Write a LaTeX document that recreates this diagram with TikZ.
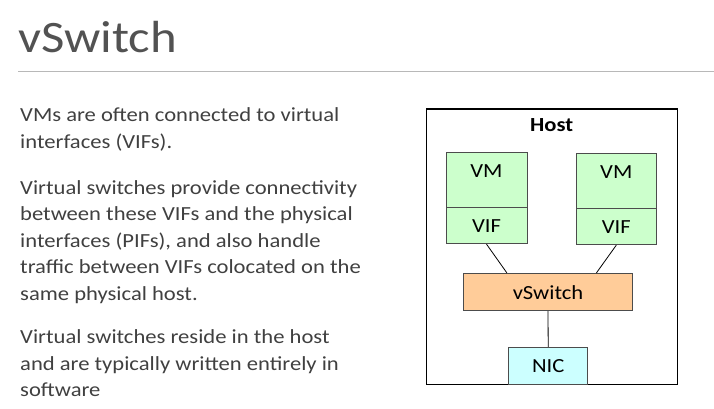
\documentclass[tikz,border=0pt]{standalone}
\usepackage{fontspec}
\setmainfont{Carlito}[FakeStretch=1.13]
\usetikzlibrary{positioning}

\definecolor{slidetext}{HTML}{404040}
\definecolor{vmgreen}{HTML}{CCFFCC}
\definecolor{sworange}{HTML}{FFCC99}
\definecolor{niccyan}{HTML}{CCFFFF}

\begin{document}
\begin{tikzpicture}[x=1pt,y=-1pt]

	\tikzset{
		bodytext/.style={anchor=base west, align=left, inner sep=0pt, text=slidetext,
			font=\fontsize{20}{26.5}\selectfont},
		boxtext/.style={anchor=base, inner sep=0pt, font=\fontsize{20}{24}\selectfont},
		part/.style={draw=black!70, line width=0.9pt, inner sep=0pt},
		wire/.style={line width=0.8pt}
	}

	\useasboundingbox (0,0) rectangle (714,408);

	% title and rule
	\node[anchor=base west, inner sep=0pt, text=black!68,
		font=\fontsize{45}{50}\selectfont] (title) at (18.3,52.7) {vSwitch};
	\draw[black!28, line width=1.2pt] (18.3,71.7) -- (714,71.7);

	% left column (anchored on the last line)
	\node[bodytext] (para1) at (20,148.3) {VMs are often connected to virtual\\interfaces (VIFs).};
	\node[bodytext] (para2) at (20,300) {Virtual switches provide connectivity\\between these VIFs and the physical\\interfaces (PIFs), and also handle\\traffic between VIFs colocated on the\\same physical host.};
	\node[bodytext] (para3) at (20,396.7) {Virtual switches reside in the host\\and are typically written entirely in\\software};

	% host
	\node[draw=black, line width=1.3pt, minimum width=251pt, minimum height=275.3pt,
		inner sep=0pt] (host) at (552.2,246.7) {};
	\node[boxtext, font=\fontsize{20}{24}\selectfont\bfseries] (hostname) at (551.7,131.7) {Host};

	% two VMs with their VIFs
	\node[part, fill=vmgreen, minimum width=81pt, minimum height=55.4pt] (vm1) at (486.5,180) {};
	\node[part, fill=vmgreen, minimum width=81pt, minimum height=36pt] (vif1) at (486.5,225.7) {};
	\node[part, fill=vmgreen, minimum width=80.7pt, minimum height=55.4pt] (vm2) at (616.3,181) {};
	\node[part, fill=vmgreen, minimum width=80.7pt, minimum height=36pt] (vif2) at (616.3,226.7) {};

	\node[boxtext] at (486.5,177.7) {VM};
	\node[boxtext] at (486.5,232.7) {VIF};
	\node[boxtext] at (616.3,178.7) {VM};
	\node[boxtext] at (616.3,233.7) {VIF};

	% switch and NIC
	\node[part, fill=sworange, minimum width=169.4pt, minimum height=37.4pt] (vsw) at (548,292) {};
	\node[boxtext] at (548,299) {vSwitch};
	\node[part, fill=niccyan, minimum width=79pt, minimum height=37pt] (nic) at (548.2,365.8) {};
	\node[boxtext] at (548.2,372.8) {NIC};

	\draw[wire] (vif1.south) -- ([xshift=44pt]vsw.north west);
	\draw[wire] (vif2.south) -- ([xshift=-36.7pt]vsw.north east);
	\draw[wire] (vsw.south) -- (nic.north);

\end{tikzpicture}
\end{document}
